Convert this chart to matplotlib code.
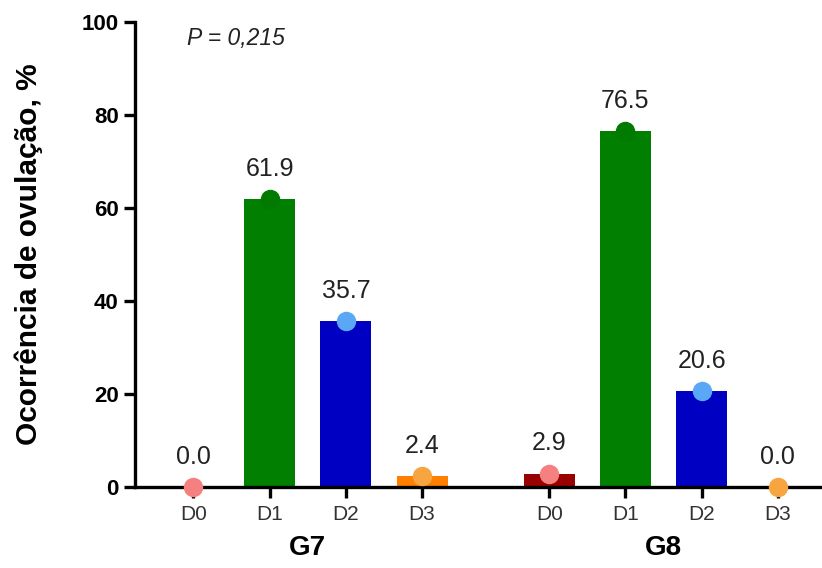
import matplotlib
matplotlib.use("Agg")
import matplotlib.pyplot as plt
import numpy as np

plt.rcParams['font.family'] = ['Liberation Sans', 'DejaVu Sans']

groups = ["G7", "G8"]
days = ["D0", "D1", "D2", "D3"]
g7_values = [0.0, 61.9, 35.7, 2.4]
g8_values = [2.9, 76.5, 20.6, 0.0]
bar_colors = ["#990000", "#007f00", "#0000c2", "#ff8000"]
marker_colors = ["#f58080", "#007a00", "#5aa8f5", "#f7a540"]
p_text = "P = 0,215"

fig = plt.figure(figsize=(8.22, 5.68), dpi=100)
ax = fig.add_axes([0.164, 0.1426, 0.836, 0.8185])

group_offsets = [0.0, 4.67]
width = 0.67
for gi, vals in enumerate([g7_values, g8_values]):
    xs = np.arange(len(days)) + group_offsets[gi]
    for x, v, bc, mc in zip(xs, vals, bar_colors, marker_colors):
        ax.bar(x, v, width=width, color=bc, zorder=2)
        ax.plot(x, v, 'o', color=mc, markersize=13, zorder=4, clip_on=False)
        ax.text(x, v + 6.5, f"{v:.1f}", ha='center', va='center', fontsize=18, color='#222222')
    ax.text(np.mean(xs), -13.2, groups[gi], ha='center', va='center', fontsize=20,
            fontweight='bold', transform=ax.transData)

all_x = np.concatenate([np.arange(4) + o for o in group_offsets])
ax.set_xticks(all_x)
ax.set_xticklabels(days * 2, fontsize=15, color='#333333')
ax.set_xlim(-0.77, 8.25)
ax.set_ylim(0, 100)
ax.set_yticks([0, 20, 40, 60, 80, 100])
ax.set_yticklabels(["0", "20", "40", "60", "80", "100"], fontsize=16, fontweight='bold')
ax.set_ylabel("Ocorrência de ovulação, %", fontsize=21.5, fontweight='bold', labelpad=28)

for s in ['top', 'right']:
    ax.spines[s].set_visible(False)
for s in ['left', 'bottom']:
    ax.spines[s].set_linewidth(2.4)
ax.tick_params(axis='both', width=2.4, length=8, direction='out')
ax.tick_params(axis='x', pad=5)

ax.text(-0.08, 96.5, p_text, fontsize=16.5, style='italic', color='#222222', va='center')

fig.savefig("out.png", dpi=100)
